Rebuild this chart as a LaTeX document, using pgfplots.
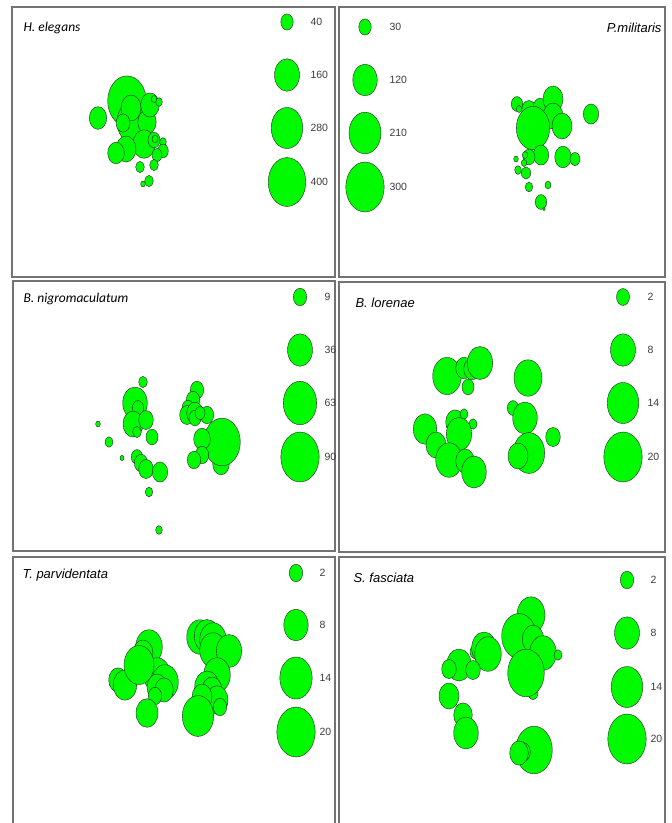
\documentclass[border=0pt]{standalone}
\usepackage{pgfplots}
\pgfplotsset{compat=1.18}
\usepackage{fontspec}
\setmainfont{Liberation Sans}
\newfontfamily\calfont{Carlito}

\definecolor{bubblegreen}{RGB}{0,250,0}
\definecolor{framegray}{RGB}{115,115,115}
\definecolor{labgray}{RGB}{60,60,60}

% circles in the source are stretched vertically by about 1.3
\pgfdeclareplotmark{vcirc}{%
  \pgfpathellipse{\pgfpointorigin}{\pgfqpoint{\pgfplotmarksize}{0pt}}{\pgfqpoint{0pt}{1.3\pgfplotmarksize}}%
  \pgfusepathqfillstroke}

\pgfplotsset{
  panel/.style n args={4}{
    scale only axis, anchor=north west,
    at={(#1pt,-#3pt)},
    width=#2pt-#1pt, height=#4pt-#3pt,
    xmin=#1, xmax=#2, ymin=#3, ymax=#4, y dir=reverse,
    xtick=\empty, ytick=\empty,
    axis line style={framegray, line width=1.1pt},
    clip=false,
  },
  bubble/.style={
    scatter, only marks, mark=vcirc,
    scatter/use mapped color={draw=black!85, fill=bubblegreen},
    visualization depends on={\thisrow{r}\as\rr},
    scatter/@pre marker code/.append style={/tikz/mark size=\rr},
    mark options={line width=0.4pt},
  },
}
\tikzset{
  lab/.style={anchor=west, font=\fontsize{10.5}{12}\selectfont, text=labgray},
  ttl/.style={anchor=west, font=\fontsize{13}{15}\selectfont\itshape},
}

\begin{document}
\begin{tikzpicture}
\fill[white] (0,0) rectangle (672pt,-823pt);
\useasboundingbox (0,0) rectangle (672pt,-823pt);

% ---------- H. elegans
\begin{axis}[panel={12}{335}{7}{277}]
\addplot[bubble] table {
x y r
127 101 19.3
133 122 16
98 118 8.7
131 108 10
147 122 9.2
123 123 7
150 105 9.3
154 99 2.7
159 102 3.3
144 144 11
126 149 10
116 153 8.3
154 140 6
155 139 3
163 142 3.3
163 151 5.3
157 155 5
140 167 4.3
154 165 4.3
149 181 4.3
143 184 2.3
};
\addplot[bubble] table {
x y r
287 22 6.2
287 75 12.5
287 128 15.8
287 182 18.8
};
\node[ttl, font=\fontsize{13.5}{15}\calfont\itshape] at (axis cs:20,28) {H. elegans};
\node[lab] at (axis cs:307,22) {40};
\node[lab] at (axis cs:307,75) {160};
\node[lab] at (axis cs:307,128) {280};
\node[lab] at (axis cs:307,182) {400};
\end{axis}

% ---------- P. militaris
\begin{axis}[panel={339}{665}{7}{277}]
\addplot[bubble] table {
x y r
517 104 5.7
519 109 2.7
529 110 7.3
540 107 6.7
553 99 10
553 116 10
562 126 10
533 128 16.7
591 114 7.7
541 155 7.7
529 157 6
563 157 8.3
575 159 5
525 155 2.7
516 159 2.3
524 163 2.7
518 170 3.3
526 173 4.7
529 187 3.7
548 185 3
541 202 5.7
544 209 1.3
};
\addplot[bubble] table {
x y r
365 27 6.2
365 80 12.2
365 133 16
365 187 19.2
};
\node[ttl, anchor=east] at (axis cs:665,28) {P.militaris};
\node[lab] at (axis cs:386,27) {30};
\node[lab] at (axis cs:386,80) {120};
\node[lab] at (axis cs:386,133) {210};
\node[lab] at (axis cs:386,187) {300};
\end{axis}

% ---------- B. nigromaculatum
\begin{axis}[panel={13}{335}{281}{551}]
\addplot[bubble] table {
x y r
143 382 4.3
135 403 12.3
138 408 5.7
133 424 10
146 420 7.3
137 432 4.3
152 437 6
98 424 2.3
109 442 4
122 458 2
137 457 5.7
141 463 6.7
146 469 7.3
160 472 7.7
149 492 3.7
159 530 3.3
197 390 6.7
193 400 6.7
188 408 6
187 415 7.3
195 413 8.3
195 418 6
207 415 6.7
200 413 5
221 464 8.3
222 442 18.3
202 439 8.3
202 455 6.7
194 460 6.7
};
\addplot[bubble] table {
x y r
300 297 6.7
300 350 12.5
300 403 16.7
300 457 19.2
};
\node[ttl, font=\fontsize{13.5}{15}\calfont\itshape] at (axis cs:20,299) {B. nigromaculatum};
\node[lab] at (axis cs:321,297) {9};
\node[lab] at (axis cs:321,350) {36};
\node[lab] at (axis cs:321,403) {63};
\node[lab] at (axis cs:321,457) {90};
\end{axis}

% ---------- B. lorenae
\begin{axis}[panel={339}{665}{282}{552}]
\addplot[bubble] table {
x y r
447 376 14.3
464 368 8.3
472 369 8.3
480 363 12.7
468 387 6
528 378 14
425 429 11.7
436 445 10
455 422 9.3
464 414 4
473 424 4
459 434 12.7
449 460 13.3
465 461 9.3
474 472 12.3
513 408 5.7
525 418 12.3
529 453 15.7
518 456 10
553 437 7.3
};
\addplot[bubble] table {
x y r
623 297 6.5
623 350 12.5
623 403 15.8
623 457 19.2
};
\node[ttl] at (axis cs:352,303) {B. lorenae};
\node[lab] at (axis cs:644,297) {2};
\node[lab] at (axis cs:644,350) {8};
\node[lab] at (axis cs:644,403) {14};
\node[lab] at (axis cs:644,457) {20};
\end{axis}

% ---------- T. parvidentata
\begin{axis}[panel={13}{335}{557}{830}]
\addplot[bubble] table {
x y r
149 647 13.3
143 653 10
118 680 9.3
125 685 11.7
157 675 13.3
165 682 13.3
157 687 10
164 690 9.3
139 665 15
155 696 6.7
147 713 11
200 637 13.3
207 636 12.7
213 640 13.3
213 650 13.3
229 651 12.7
217 675 13.3
207 687 12.3
212 690 10
217 700 11
202 697 10
220 707 6.7
198 716 15.7
};
\addplot[bubble] table {
x y r
296 573 6.7
296 625 12.2
296 678 16.2
296 732 19.2
};
\node[ttl] at (axis cs:19,575) {T. parvidentata};
\node[lab] at (axis cs:316,573) {2};
\node[lab] at (axis cs:316,625) {8};
\node[lab] at (axis cs:316,678) {14};
\node[lab] at (axis cs:316,732) {20};
\end{axis}

% ---------- S. fasciata
\begin{axis}[panel={339}{665}{557}{830}]
\addplot[bubble] table {
x y r
531 615 14
519 636 17.3
533 639 10.7
543 653 13.3
558 655 4
533 693 5
526 673 18.3
475 652 5
484 648 12.3
488 654 13.3
459 665 12.3
449 669 7.3
473 670 7.3
449 696 10
463 715 9.3
466 733 12.3
534 750 18.3
523 752 7.3
519 753 9.3
};
\addplot[bubble] table {
x y r
627 580 6.7
627 633 12.5
627 687 15.8
627 739 19.2
};
\node[ttl] at (axis cs:350,578) {S. fasciata};
\node[lab] at (axis cs:647,580) {2};
\node[lab] at (axis cs:647,633) {8};
\node[lab] at (axis cs:647,687) {14};
\node[lab] at (axis cs:647,739) {20};
\end{axis}
\end{tikzpicture}
\end{document}
